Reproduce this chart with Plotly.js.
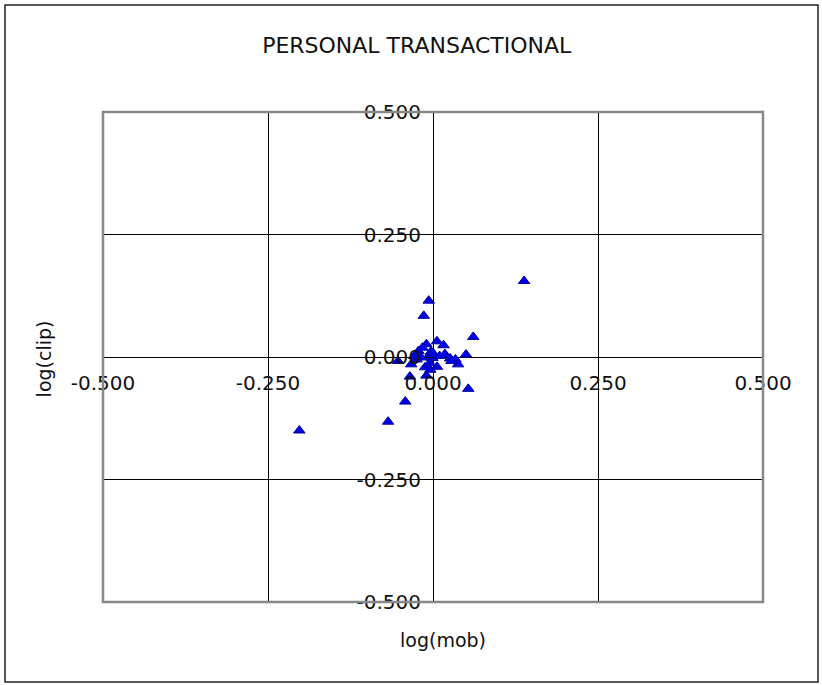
<!DOCTYPE html>
<html>
<head>
<meta charset="utf-8">
<script src="https://cdn.plot.ly/plotly-3.0.1.min.js"></script>
<style>
html,body{margin:0;padding:0;background:#fff;}
#chart{width:822px;height:685px;}
</style>
</head>
<body>
<div id="chart"></div>
<script>
// log(mob) values
const logMob = [
  -0.2025, -0.068, -0.042, 0.138, -0.0065, -0.014, 0.061, 0.006, 0.016, -0.010,
  -0.016, -0.022, -0.003, 0.018, 0.026, 0.034, 0.050, 0.038, -0.053, -0.033,
  -0.012, -0.004, 0.006, -0.010, -0.035, 0.0535, -0.025, -0.008, 0.000, -0.001,
  -0.005, -0.018, 0.010, 0.028, -0.028
];
// log(clip) values
const logClip = [
  -0.150, -0.132, -0.091, 0.155, 0.115, 0.084, 0.041, 0.032, 0.024, 0.026,
  0.019, 0.012, 0.011, 0.006, -0.003, -0.005, 0.005, -0.015, -0.008, -0.015,
  -0.021, -0.026, -0.020, -0.038, -0.040, -0.065, -0.005, 0.000, 0.008, -0.002,
  -0.012, -0.001, 0.002, -0.008, 0.002
];
const tickVals = [-0.5, -0.25, 0, 0.25, 0.5];
const tickText = ["-0.500", "-0.250", "0.000", "0.250", "0.500"];

const chartTitle = "PERSONAL TRANSACTIONAL";
const xTitle = "log(mob)";
const yTitle = "log(clip)";

const FONT = "DejaVu Sans, sans-serif";

const trace = {
  x: logMob,
  y: logClip,
  type: "scatter",
  mode: "markers",
  marker: {symbol: "triangle-up", size: 10, color: "#0000e6", line: {color: "#0000a0", width: 1}},
  hoverinfo: "x+y"
};

const axisCommon = {
  range: [-0.5, 0.5],
  tickmode: "array",
  tickvals: tickVals,
  ticktext: tickText,
  showgrid: true,
  gridcolor: "#000",
  gridwidth: 1,
  zeroline: true,
  zerolinecolor: "#000",
  zerolinewidth: 1,
  showline: false,
  ticks: "outside",
  ticklen: 8,
  tickcolor: "#000",
  tickfont: {family: FONT, size: 20, color: "#111"},
  anchor: "free",
  position: 0.5,
  fixedrange: true
};

const layout = {
  width: 822,
  height: 685,
  margin: {l: 103, r: 59, t: 112, b: 83},
  paper_bgcolor: "#fff",
  plot_bgcolor: "#fff",
  showlegend: false,
  title: {
    text: chartTitle,
    font: {family: FONT, size: 22, color: "#111"},
    xref: "container", yref: "container",
    x: 0.507, y: 0.934, xanchor: "center", yanchor: "middle"
  },
  xaxis: Object.assign({}, axisCommon),
  yaxis: Object.assign({}, axisCommon),
  annotations: [
    {text: xTitle, xref: "paper", yref: "paper", x: 0.515, y: -0.078, xanchor: "center", yanchor: "middle",
     showarrow: false, font: {family: FONT, size: 19, color: "#111"}},
    {text: yTitle, xref: "paper", yref: "paper", x: -0.088, y: 0.497, xanchor: "center", yanchor: "middle",
     textangle: -90, showarrow: false, font: {family: FONT, size: 19, color: "#111"}}
  ],
  shapes: [
    {type: "rect", xref: "paper", yref: "paper", x0: 0, x1: 1, y0: 0, y1: 1,
     line: {color: "#888", width: 2.5}, fillcolor: "rgba(0,0,0,0)", layer: "above"},
    {type: "rect", xref: "paper", yref: "paper",
     x0: -98/660, x1: 1 + 55/660, y0: -80/490, y1: 1 + 107/490,
     line: {color: "#222", width: 1.5}, fillcolor: "rgba(0,0,0,0)", layer: "below"}
  ]
};

Plotly.newPlot("chart", [trace], layout, {displayModeBar: false, staticPlot: false});
</script>
</body>
</html>
